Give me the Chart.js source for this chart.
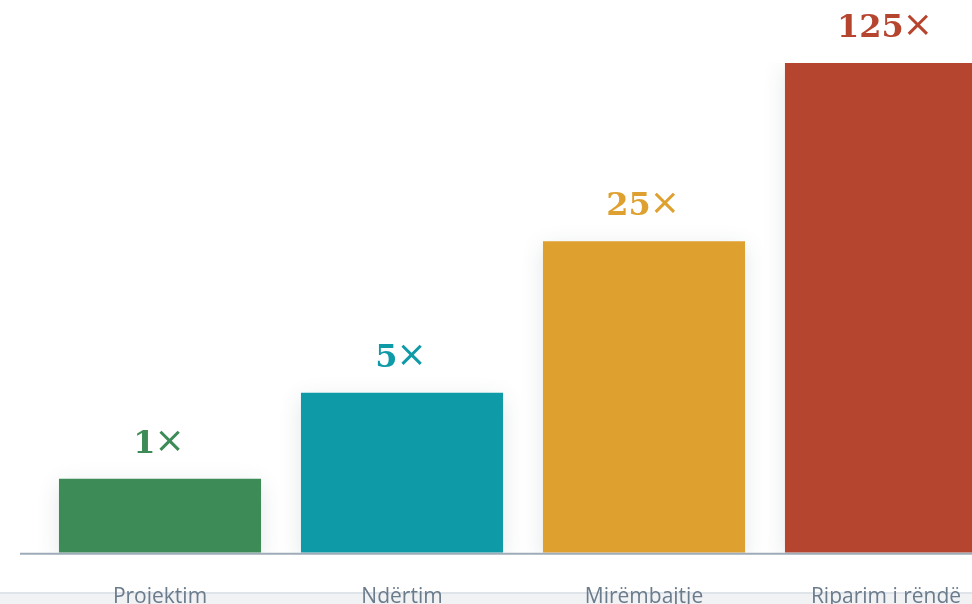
<!DOCTYPE html>
<html lang="sq">
<head>
<meta charset="utf-8">
<title>Kostoja e ndryshimeve sipas fazës</title>
<script src="https://cdn.jsdelivr.net/npm/chart.js@4.4.1/dist/chart.umd.min.js"></script>
<style>
  html, body { margin: 0; padding: 0; background: #ffffff; overflow: hidden; }
  #wrap { position: absolute; left: 0; top: 0; width: 1010px; height: 604px; }
</style>
</head>
<body>
<div id="wrap"><canvas id="costChart" width="1010" height="604"></canvas></div>
<script>
// Phases of the project life cycle
const phases = ['Projektim', 'Ndërtim', 'Mirëmbajtje', 'Riparim i rëndë'];
// Relative bar height (tallest bar = 100)
const barHeights = [15.1, 32.7, 63.6, 100];
// Cost multiplier shown above each bar
const multipliers = ['1', '5', '25', '125'];
// One colour per phase
const phaseColors = ['#3d8b57', '#0f9aa7', '#dea02f', '#b6452f'];

// Page floor strip at the bottom
const floorStrip = {
  id: 'floorStrip',
  beforeDraw(chart) {
    const { ctx, width, height } = chart;
    ctx.save();
    ctx.fillStyle = '#dfe4ea';
    ctx.fillRect(0, 592, width, 2);
    ctx.fillStyle = '#f0f2f4';
    ctx.fillRect(0, 594, width, height - 594);
    ctx.restore();
  }
};

// Soft drop shadow behind the bars
const barShadow = {
  id: 'barShadow',
  beforeDatasetsDraw(chart) {
    const ctx = chart.ctx;
    ctx.save();
    ctx.shadowColor = 'rgba(40, 60, 80, 0.13)';
    ctx.shadowBlur = 22;
    ctx.shadowOffsetY = 6;
  },
  afterDatasetsDraw(chart) {
    chart.ctx.restore();
  }
};

// Baseline and multiplier labels
const baseAndLabels = {
  id: 'baseAndLabels',
  afterDatasetsDraw(chart) {
    const { ctx, chartArea } = chart;
    ctx.save();
    ctx.strokeStyle = '#9eacb9';
    ctx.lineWidth = 2;
    ctx.beginPath();
    ctx.moveTo(20, chartArea.bottom + 1);
    ctx.lineTo(chart.width, chartArea.bottom + 1);
    ctx.stroke();

    const numFont = "bold 32px 'DejaVu Serif'";
    const signFont = "36px 'DejaVu Sans'";
    const meta = chart.getDatasetMeta(0);
    meta.data.forEach((bar, i) => {
      const num = multipliers[i];
      ctx.font = numFont;
      const wNum = ctx.measureText(num).width;
      ctx.font = signFont;
      const wSign = ctx.measureText('×').width;
      const gap = -1;
      const total = wNum + gap + wSign;
      const left = bar.x - 1 - total / 2;
      const baseY = bar.y - 26;
      ctx.fillStyle = phaseColors[i];
      ctx.textBaseline = 'alphabetic';
      ctx.textAlign = 'left';
      ctx.font = numFont;
      ctx.fillText(num, left, baseY);
      ctx.font = signFont;
      ctx.fillText('×', left + wNum + gap, baseY - 1);
    });
    ctx.restore();
  }
};

new Chart(document.getElementById('costChart'), {
  type: 'bar',
  data: {
    labels: phases,
    datasets: [{
      data: barHeights,
      backgroundColor: phaseColors,
      borderWidth: 0,
      categoryPercentage: 1,
      barPercentage: 0.835
    }]
  },
  options: {
    responsive: false,
    devicePixelRatio: 1,
    animation: false,
    layout: { padding: { left: 39, right: 3, top: 63, bottom: -38 } },
    plugins: {
      legend: { display: false },
      tooltip: { enabled: false }
    },
    scales: {
      x: {
        grid: { display: false, drawTicks: false },
        border: { display: false },
        ticks: {
          padding: 32,
          color: '#6a7b8c',
          font: { family: "'Open Sans'", size: 21 }
        }
      },
      y: {
        display: false,
        min: 0,
        max: 100
      }
    }
  },
  plugins: [floorStrip, barShadow, baseAndLabels]
});
</script>
</body>
</html>
